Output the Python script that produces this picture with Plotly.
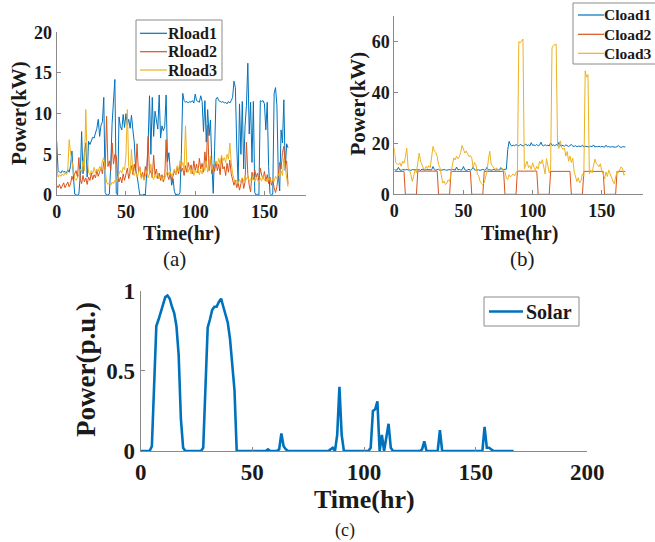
import plotly.graph_objects as go

W, H = 655, 542

# ---------------- data (hourly, one week) ----------------
hours = list(range(168))

rload1 = [6.6, 3.0, 2.8, 2.7, 3.0, 2.8, 2.9, 2.7, 3.1, 2.8, 3.6, 5.4, 2.5, 0.1, 0.0, 0.0, 0.1, 2.4, 7.8, 2.6,
          5.2, 6.4, 2.2, 6.6, 6.2, 6.8, 7.1, 7.0, 7.6, 8.2, 9.3, 7.2, 8.6, 9.0, 12.0, 0.3, 0.0, 0.0, 0.1, 3.5,
          8.8, 11.0, 14.2, 0.2, 0.0, 9.6, 8.4, 8.0, 9.9, 8.3, 10.0, 8.6, 9.3, 8.2, 9.8, 8.0, 6.5, 3.1, 2.4, 1.2,
          0.0, 0.0, 0.0, 0.1, 0.0, 2.8, 6.2, 12.2, 5.0, 12.0, 7.2, 10.3, 8.8, 8.1, 12.3, 7.0, 8.5, 7.9, 8.4, 12.3,
          4.1, 5.2, 3.0, 1.2, 2.0, 0.4, 0.0, 0.1, 0.0, 0.3, 5.0, 12.5, 11.6, 11.4, 11.5, 11.3, 11.5, 11.4, 11.6, 11.3,
          12.4, 11.6, 11.5, 11.4, 12.2, 11.5, 7.8, 11.6, 6.5, 10.5, 7.3, 9.2, 4.0, 0.2, 5.5, 11.8, 12.0, 11.6, 11.5, 11.4,
          11.5, 11.3, 11.4, 11.2, 11.5, 11.3, 11.6, 12.0, 14.0, 13.2, 6.0, 1.5, 11.2, 5.0, 11.5, 3.2, 8.5, 11.0, 16.2, 7.5,
          11.4, 4.0, 11.5, 0.3, 0.0, 0.1, 0.0, 11.6, 11.5, 11.6, 11.2, 8.0, 11.4, 3.5, 0.2, 0.0, 0.1, 12.5, 13.2, 11.0,
          2.5, 0.5, 8.0, 6.4, 11.7, 3.0, 6.3, 5.8]

rload2 = [1.2, 0.9, 1.3, 0.8, 1.1, 1.5, 0.9, 1.2, 1.6, 1.0, 1.4, 2.3, 1.8, 2.6, 3.0, 2.2, 4.6, 2.0, 1.4, 2.4,
          1.6, 2.1, 1.3, 2.2, 1.8, 2.7, 1.9, 2.5, 2.1, 3.0, 2.3, 2.8, 3.4, 2.6, 4.1, 3.2, 9.7, 3.5, 4.2, 3.0,
          6.4, 3.8, 5.0, 4.8, 2.3, 1.6, 2.2, 1.5, 2.6, 1.8, 2.4, 3.3, 2.0, 2.8, 3.6, 2.5, 3.8, 2.7, 6.3, 2.9,
          3.4, 2.2, 2.8, 1.9, 3.5, 2.4, 7.2, 2.6, 3.0, 2.1, 4.9, 2.5, 3.2, 2.0, 2.7, 1.8, 2.5, 1.6, 2.2, 6.8,
          2.4, 1.9, 2.8, 1.7, 2.3, 3.0, 2.5, 3.4, 2.6, 3.8, 2.9, 3.3, 2.4, 3.6, 2.8, 4.0, 3.1, 3.7, 2.6, 4.2,
          3.0, 3.8, 2.7, 4.5, 3.2, 3.9, 2.8, 5.3, 3.4, 8.6, 3.0, 4.4, 2.6, 3.7, 2.9, 4.1, 3.0, 3.8, 2.5, 4.6,
          3.2, 3.5, 2.4, 3.9, 2.8, 4.3, 2.6, 2.0, 1.2, 1.8, 0.9, 1.5, 0.6, 1.4, 2.1, 0.8, 1.6, 6.5, 2.5, 1.2,
          0.4, 2.8, 1.9, 3.1, 2.2, 2.7, 1.8, 3.3, 2.4, 2.0, 2.9, 1.7, 2.5, 1.4, 2.2, 1.2, 1.8, 0.9, 0.3, 1.0,
          2.5, 4.0, 3.2, 5.2, 6.0, 3.6, 4.2, 1.3]

rload3 = [3.5, 2.2, 2.5, 2.3, 2.6, 2.4, 2.7, 2.5, 3.0, 6.8, 5.2, 4.0, 3.2, 2.0, 1.8, 2.1, 2.5, 3.2, 2.8, 4.2,
          3.0, 10.5, 4.5, 2.8, 2.5, 3.0, 2.6, 3.4, 2.7, 3.2, 2.9, 3.5, 3.1, 4.2, 4.6, 3.0, 1.6, 1.3, 1.5, 1.2,
          1.6, 1.4, 1.8, 1.6, 2.2, 2.6, 3.0, 2.7, 3.4, 3.1, 4.8, 10.5, 3.5, 2.6, 5.6, 2.8, 2.4, 2.9, 2.2, 2.6,
          3.5, 2.0, 2.5, 1.8, 2.3, 3.0, 2.1, 2.6, 3.8, 2.3, 1.9, 2.5, 2.1, 2.7, 2.0, 2.4, 1.8, 2.3, 2.0, 2.6,
          3.0, 2.4, 2.9, 2.2, 2.7, 3.2, 2.5, 3.6, 3.0, 4.2, 3.4, 4.0, 3.2, 8.5, 3.6, 2.8, 3.5, 2.6, 3.2, 2.4,
          3.0, 2.7, 3.4, 2.5, 3.1, 2.6, 3.6, 3.0, 4.2, 2.8, 3.4, 4.8, 3.1, 3.7, 3.9, 4.2, 3.6, 4.5, 3.8, 4.9,
          4.2, 4.6, 4.0, 5.0, 4.4, 6.4, 4.0, 2.6, 2.0, 1.5, 1.8, 1.4, 1.9, 1.6, 2.1, 1.7, 2.4, 1.9, 2.3, 1.6,
          2.0, 1.8, 2.5, 1.6, 2.2, 1.9, 1.5, 2.1, 1.7, 2.4, 1.8, 2.0, 1.6, 2.2, 1.8, 1.5, 2.0, 1.7, 2.3, 2.0,
          2.6, 2.2, 3.0, 2.4, 4.5, 3.2, 2.0, 1.0]

cload1 = [9.8, 9.5, 9.6, 10.6, 9.6, 9.4, 9.7, 9.5, 9.6, 9.8, 9.5, 9.6, 9.4, 9.7, 9.6, 9.8, 9.5, 9.6, 9.7, 9.4,
          9.9, 9.6, 9.5, 9.7, 9.6, 9.8, 9.5, 9.6, 10.9, 9.7, 9.5, 9.6, 9.8, 9.4, 9.6, 9.5, 9.7, 9.6, 9.4, 9.7,
          9.5, 9.6, 9.8, 9.6, 9.5, 10.7, 9.6, 9.8, 9.5, 9.7, 10.9, 9.6, 9.4, 9.6, 9.8, 9.5, 9.7, 10.8, 9.6, 9.5,
          9.7, 9.6, 9.4, 9.6, 9.8, 9.5, 9.6, 10.6, 9.5, 9.7, 9.4, 9.6, 9.8, 9.5, 9.6, 9.7, 9.5, 10.5, 9.6, 9.8,
          9.7, 9.9, 17.5, 20.8, 19.4, 19.0, 19.3, 19.1, 19.5, 19.2, 19.0, 19.6, 19.3, 19.0, 19.2, 19.8, 19.1, 19.4, 19.0, 20.3,
          19.2, 19.4, 19.1, 19.6, 19.0, 19.3, 20.5, 19.2, 19.0, 19.5, 19.1, 19.3, 19.0, 20.2, 19.2, 19.4, 19.0, 19.6, 19.1, 20.4,
          19.0, 19.3, 19.1, 18.9, 19.4, 19.0, 18.8, 19.2, 19.6, 18.9, 18.8, 19.1, 18.7, 18.9, 18.7, 18.8, 19.3, 18.6, 18.9, 18.7,
          18.8, 18.6, 18.9, 18.7, 19.4, 18.6, 18.8, 18.7, 18.9, 18.6, 18.8, 18.7, 18.5, 19.3, 18.6, 18.8, 18.5, 18.7, 18.6, 18.8,
          18.5, 18.7, 19.2, 18.6, 18.4, 18.7, 18.5, 18.6]

cload2 = [9.0, 9.0, 9.0, 9.0, 9.0, 9.0, 9.0, 9.0, 0.0, 0.0, 0.0, 0.0, 0.0, 0.0, 0.0, 0.0, 0.0, 9.1, 9.1, 9.1,
          9.1, 9.1, 9.1, 9.1, 9.1, 9.1, 9.1, 9.1, 9.1, 9.1, 9.1, 9.1, 0.0, 0.0, 0.0, 0.0, 0.0, 0.0, 0.0, 0.0,
          0.0, 9.0, 9.0, 9.0, 9.0, 9.0, 9.0, 9.0, 9.0, 9.0, 9.0, 9.0, 9.0, 9.0, 9.0, 9.0, 0.0, 0.0, 0.0, 0.0,
          0.0, 0.0, 0.0, 0.0, 0.0, 9.0, 9.0, 9.0, 9.0, 9.0, 9.0, 9.0, 9.0, 9.0, 9.0, 9.0, 9.0, 9.0, 9.0, 9.0,
          0.0, 0.0, 0.0, 0.0, 0.0, 0.0, 0.0, 0.0, 0.0, 9.1, 9.1, 9.1, 9.1, 9.1, 9.1, 9.1, 9.1, 9.1, 9.1, 9.1,
          9.1, 9.1, 9.1, 9.1, 0.0, 0.0, 0.0, 0.0, 0.0, 0.0, 0.0, 0.0, 0.0, 9.0, 9.0, 9.0, 9.0, 9.0, 9.0, 9.0,
          9.0, 9.0, 9.0, 9.0, 9.0, 9.0, 9.0, 9.0, 0.0, 0.0, 0.0, 0.0, 0.0, 0.0, 0.0, 0.0, 0.0, 9.0, 9.0, 9.0,
          9.0, 9.0, 9.0, 9.0, 9.0, 9.0, 9.0, 9.0, 9.0, 9.0, 9.0, 9.0, 0.0, 0.0, 0.0, 0.0, 0.0, 0.0, 0.0, 0.0,
          0.0, 9.0, 9.0, 9.0, 9.0, 9.0, 9.0, 9.0]

cload3 = [18.2, 12.5, 12.0, 11.6, 12.4, 11.0, 13.0, 12.2, 14.5, 18.2, 10.3, 9.5, 7.7, 5.1, 7.0, 9.7, 8.5, 12.0, 16.2, 13.0,
          11.5, 10.3, 9.6, 11.0, 10.2, 11.2, 10.5, 14.0, 18.8, 17.0, 16.4, 14.9, 11.6, 10.5, 7.7, 4.4, 5.2, 3.8, 4.4, 5.7,
          5.0, 9.0, 11.5, 14.3, 13.5, 15.0, 14.0, 14.8, 16.5, 19.2, 18.0, 16.2, 17.0, 15.6, 14.8, 15.2, 14.3, 10.3, 12.5, 11.6,
          8.0, 7.2, 5.1, 4.2, 3.8, 4.6, 7.0, 9.0, 13.5, 16.9, 12.0, 10.9, 10.2, 9.8, 10.4, 9.4, 10.0, 9.6, 10.3, 9.2,
          9.0, 6.4, 5.8, 7.7, 6.8, 7.5, 8.0, 7.2, 8.6, 9.0, 60.0, 59.5, 60.2, 61.0, 10.0, 12.0, 13.0, 10.5, 11.2, 9.8,
          12.4, 10.6, 9.5, 11.0, 10.0, 13.0, 12.0, 13.6, 10.5, 8.0, 14.0, 11.2, 8.5, 9.5, 57.5, 58.5, 58.8, 59.0, 20.0, 18.0,
          21.0, 18.5, 17.6, 18.2, 15.0, 16.8, 13.0, 15.0, 12.5, 14.2, 9.0, 7.0, 5.0, 6.5, 4.5, 5.5, 8.0, 7.0, 48.5, 46.0,
          47.0, 8.0, 9.5, 8.5, 11.0, 13.8, 12.2, 11.5, 10.8, 12.0, 9.0, 8.2, 6.0, 8.8, 7.0, 9.5, 8.0, 6.0, 5.2, 4.2,
          6.8, 9.0, 8.5, 9.5, 10.8, 10.0, 7.5, 8.0]

solar = [0.0, 0.0, 0.0, 0.0, 0.0, 0.03, 0.4, 0.78, 0.82, 0.87, 0.92, 0.96, 0.97, 0.95, 0.9, 0.86, 0.78, 0.6, 0.2, 0.02,
         0.0, 0.0, 0.0, 0.0, 0.0, 0.0, 0.0, 0.0, 0.02, 0.4, 0.77, 0.82, 0.88, 0.9, 0.9, 0.93, 0.95, 0.9, 0.85, 0.8,
         0.7, 0.55, 0.38, 0.0, 0.0, 0.0, 0.0, 0.0, 0.0, 0.0, 0.0, 0.0, 0.0, 0.0, 0.0, 0.0, 0.0, 0.01, 0.0, 0.0,
         0.0, 0.0, 0.01, 0.11, 0.03, 0.01, 0.0, 0.0, 0.0, 0.0, 0.0, 0.0, 0.0, 0.0, 0.0, 0.0, 0.0, 0.0, 0.0, 0.0,
         0.0, 0.0, 0.0, 0.0, 0.0, 0.01, 0.02, 0.0, 0.1, 0.4, 0.1, 0.0, 0.0, 0.0, 0.0, 0.0, 0.0, 0.0, 0.0, 0.0,
         0.0, 0.0, 0.0, 0.02, 0.25, 0.26, 0.31, 0.0, 0.1, 0.0, 0.1, 0.17, 0.02, 0.0, 0.0, 0.0, 0.0, 0.0, 0.0, 0.0,
         0.0, 0.0, 0.0, 0.0, 0.0, 0.0, 0.01, 0.06, 0.0, 0.0, 0.0, 0.0, 0.0, 0.0, 0.13, 0.0, 0.0, 0.0, 0.0, 0.0,
         0.0, 0.0, 0.0, 0.0, 0.0, 0.0, 0.0, 0.0, 0.0, 0.0, 0.0, 0.0, 0.0, 0.0, 0.15, 0.02, 0.02, 0.01, 0.0, 0.0,
         0.0, 0.0, 0.0, 0.0, 0.0, 0.0, 0.0, 0.0]

BLUE, ORANGE, YELLOW = "#0072BD", "#D95319", "#EDB120"
AXIS_GREY = "#8a8a8a"
TEXT = "#1a1a1a"
SERIF = "Liberation Serif"

panel_a = [("Rload1", rload1, BLUE), ("Rload2", rload2, ORANGE), ("Rload3", rload3, YELLOW)]
panel_b = [("Cload1", cload1, BLUE), ("Cload2", cload2, ORANGE), ("Cload3", cload3, YELLOW)]
panel_c = [("Solar", solar, BLUE)]


def px(x):
    return x / W


def py(y):
    return 1 - y / H


fig = go.Figure()

for name, ys, col in panel_a:
    fig.add_trace(go.Scatter(x=hours, y=ys, mode="lines", name=name, line=dict(color=col, width=1),
                             xaxis="x", yaxis="y"))
for name, ys, col in panel_b:
    fig.add_trace(go.Scatter(x=hours, y=ys, mode="lines", name=name, line=dict(color=col, width=1),
                             xaxis="x2", yaxis="y2"))
for name, ys, col in panel_c:
    fig.add_trace(go.Scatter(x=hours, y=ys, mode="lines", name=name, line=dict(color=col, width=2.6),
                             xaxis="x3", yaxis="y3"))


def axis_style(size, **kw):
    d = dict(showline=True, linecolor=AXIS_GREY, linewidth=1, ticks="inside", ticklen=4,
             tickcolor=AXIS_GREY, showgrid=False, zeroline=False, mirror=False,
             tickfont=dict(family=SERIF, size=size, color=TEXT, weight="bold"))
    d.update(kw)
    return d


fig.update_layout(
    width=W, height=H,
    margin=dict(l=0, r=0, t=0, b=0, autoexpand=False),
    paper_bgcolor="white", plot_bgcolor="white",
    showlegend=False,
    xaxis=axis_style(18, domain=[px(56.7), px(306)], range=[0, 180], tickvals=[0, 50, 100, 150], anchor="y"),
    yaxis=axis_style(18, domain=[py(195), py(32.3)], range=[0, 20], tickvals=[0, 5, 10, 15, 20], anchor="x"),
    xaxis2=axis_style(18, domain=[px(394.3), px(643.3)], range=[0, 180], tickvals=[0, 50, 100, 150], anchor="y2"),
    yaxis2=axis_style(18, domain=[py(194.3), py(16.1)], range=[0, 70], tickvals=[0, 20, 40, 60], anchor="x2"),
    xaxis3=axis_style(23, domain=[px(140.7), px(587.3)], range=[0, 200], tickvals=[0, 50, 100, 150, 200], anchor="y3"),
    yaxis3=axis_style(23, domain=[py(451), py(290.7)], range=[0, 1], tickvals=[0, 0.5, 1], anchor="x3"),
)


def label(text, x, y, size, bold=True, angle=0, anchor="center"):
    fig.add_annotation(text=text, x=px(x), y=py(y), xref="paper", yref="paper",
                       xanchor=anchor, yanchor="middle", showarrow=False, textangle=angle,
                       font=dict(family=SERIF, size=size, color=TEXT,
                                 weight="bold" if bold else "normal"))


def legend_box(entries, box, rows, sample, text_x, size, lw):
    """Boxed key: border rectangle, a short line sample and a bold label per series."""
    x0, y0, x1, y1 = box
    fig.add_shape(type="rect", xref="paper", yref="paper", layer="above",
                  x0=px(x0), x1=px(x1), y0=py(y1), y1=py(y0),
                  line=dict(color=AXIS_GREY, width=1), fillcolor="white")
    for (name, _, col), ry in zip(entries, rows):
        fig.add_shape(type="line", xref="paper", yref="paper", layer="above",
                      x0=px(sample[0]), x1=px(sample[1]), y0=py(ry), y1=py(ry),
                      line=dict(color=col, width=lw))
        label(name, text_x, ry, size, anchor="left")


legend_box(panel_a, (136, 20, 222, 80), (33.3, 51.7, 70.0), (140, 167), 166, 16, 1.2)
legend_box(panel_b, (573, 3, 662, 64), (15.0, 34.3, 53.3), (578, 604), 602, 15.5, 1.2)
legend_box(panel_c, (484, 297, 579, 326), (311.5,), (489, 523), 524, 20, 2.6)

# axis titles
label("Time(hr)", 181, 233, 20)
label("Time(hr)", 519, 233, 20)
label("Time(hr)", 364.5, 499, 26)
label("Power(kW)", 18.5, 113.5, 21, angle=-90)
label("Power(kW)", 357, 103.5, 21, angle=-90)
label("Power(p.u.)", 86, 370, 27, angle=-90)

# panel captions
label("(a)", 174, 259, 21, bold=False)
label("(b)", 522, 259, 21, bold=False)
label("(c)", 345, 530, 18, bold=False)

fig.write_html("out.html")
